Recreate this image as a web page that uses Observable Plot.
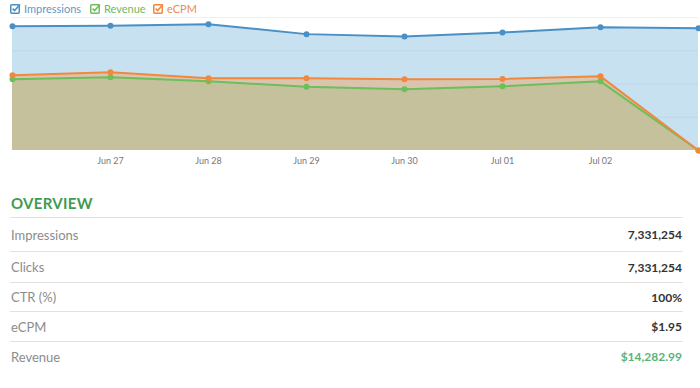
<!DOCTYPE html>
<html><head><meta charset="utf-8">
<script src="https://cdn.jsdelivr.net/npm/d3@7"></script>
<script src="https://cdn.jsdelivr.net/npm/@observablehq/plot@0.6"></script>
<style>
body{margin:0;background:#fff;font-family:Lato,"Open Sans",sans-serif;width:700px;height:388px;overflow:hidden}
#legend{height:16px;position:relative;font-size:11px}
.item{position:absolute;top:2px;display:flex;align-items:center;line-height:13px}
.item svg{margin-right:3px}
#chart svg{display:block}
#overview{margin-left:10px;width:673px}
.head{height:47px;box-sizing:border-box;padding-top:24px;padding-left:1px;line-height:18px;font-size:15px;font-weight:700;color:#3f9b52;letter-spacing:0.3px}
.row{display:flex;justify-content:space-between;align-items:center;border-top:1px solid #e2e2e2;box-sizing:border-box;font-size:12px;padding:0 1px}
.row .lab{color:#8c8c8c;font-size:13px}
.row .val{color:#333;font-weight:700}
</style></head><body>
<div id="legend"></div>
<div id="chart"></div>
<div id="overview"></div>
<script>
const dates = ["2015-06-26","2015-06-27","2015-06-28","2015-06-29","2015-06-30","2015-07-01","2015-07-02","2015-07-03"];
const impressions = [3.74,3.75,3.80,3.50,3.43,3.55,3.71,3.68];
const ecpm = [2.26,2.35,2.17,2.17,2.14,2.15,2.23,0];
const revenue = [2.14,2.20,2.08,1.92,1.84,1.93,2.08,0];
const tickDates = ["2015-06-27","2015-06-28","2015-06-29","2015-06-30","2015-07-01","2015-07-02"];
const seriesNames = ["Impressions","Revenue","eCPM"];
const seriesColors = ["#4a90c4","#6cbf5a","#f0883e"];
const legendTextColors = ["#5f97c6","#6fbb5c","#f08a4e"];
const overviewLabels = ["Impressions","Clicks","CTR (%)","eCPM","Revenue"];
const overviewValues = ["7,331,254","7,331,254","100%","$1.95","$14,282.99"];

const parse = d3.utcParse("%Y-%m-%d");
const rows = dates.map((d,i)=>({date:parse(d), imp:impressions[i], ecpm:ecpm[i], rev:revenue[i]}));

// legend
const legendX = [10,90,153];
const lg = d3.select("#legend");
seriesNames.forEach((n,i)=>{
  const it = lg.append("div").attr("class","item").style("left",legendX[i]+"px");
  it.html(`<svg width="11" height="11" viewBox="0 0 11 11"><rect x="0.75" y="1.75" width="8.5" height="8.5" rx="1" fill="none" stroke="${seriesColors[i]}" stroke-width="1.5"/><path d="M2.6 5.6 L4.6 7.6 L10 1.5" fill="none" stroke="${seriesColors[i]}" stroke-width="1.6"/></svg><span style="color:${legendTextColors[i]}">${n}</span>`);
});

const chart = Plot.plot({
  width:700, height:154, marginLeft:12, marginRight:2, marginTop:1, marginBottom:20,
  style:{fontFamily:"Lato, 'Open Sans', sans-serif", fontSize:"9px", color:"#777", background:"transparent"},
  x:{type:"utc", domain:[rows[0].date, rows[rows.length-1].date], ticks: tickDates.map(parse), tickFormat:d3.utcFormat("%b %d"), tickSize:0, tickPadding:7, label:null},
  y:{domain:[0,4], axis:null},
  marks:[
    Plot.ruleY([4],{stroke:"#efefef"}),
    Plot.areaY(rows,{x:"date", y:"imp", fill:"#c7e1f1"}),
    Plot.ruleY([1,2,3],{stroke:"#b3d2e6", strokeOpacity:0.6}),
    Plot.areaY(rows,{x:"date", y:"ecpm", fill:"#dac4ad"}),
    Plot.areaY(rows,{x:"date", y:"rev", fill:"#c4c19c"}),
    Plot.lineY(rows,{x:"date", y:"imp", stroke:seriesColors[0], strokeWidth:2}),
    Plot.dot(rows,{x:"date", y:"imp", fill:seriesColors[0], r:3}),
    Plot.lineY(rows,{x:"date", y:"rev", stroke:seriesColors[1], strokeWidth:2}),
    Plot.dot(rows,{x:"date", y:"rev", fill:seriesColors[1], r:3}),
    Plot.lineY(rows,{x:"date", y:"ecpm", stroke:seriesColors[2], strokeWidth:2}),
    Plot.dot(rows,{x:"date", y:"ecpm", fill:seriesColors[2], r:3})
  ]
});
document.getElementById("chart").append(chart);

// overview
const ov = d3.select("#overview");
ov.append("div").attr("class","head").text("OVERVIEW");
const rowHeights = [34,31,29,30,30];
overviewLabels.forEach((l,i)=>{
  const r = ov.append("div").attr("class","row").style("height",rowHeights[i]+"px");
  r.append("span").attr("class","lab").text(l);
  r.append("span").attr("class","val").style("color", i===4 ? "#58b37c" : null).text(overviewValues[i]);
});
</script>
</body></html>
